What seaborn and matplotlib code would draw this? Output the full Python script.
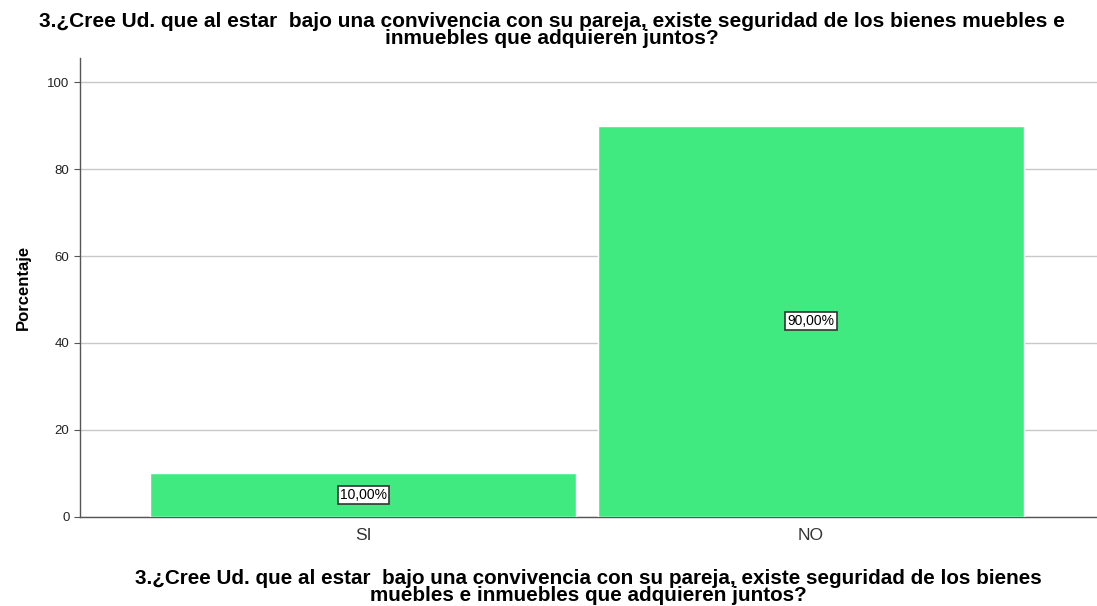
import pandas as pd
import matplotlib
matplotlib.use("Agg")
import matplotlib.pyplot as plt
import seaborn as sns

# datos
categorias = ["SI", "NO"]
porcentajes = [10.0, 90.0]
etiquetas = ["10,00%", "90,00%"]

pregunta = ("3.¿Cree Ud. que al estar  bajo una convivencia con su pareja, existe seguridad de los bienes muebles e\n"
            "inmuebles que adquieren juntos?")
pregunta_x = ("3.¿Cree Ud. que al estar  bajo una convivencia con su pareja, existe seguridad de los bienes\n"
              "muebles e inmuebles que adquieren juntos?")

sns.set_style("white")
plt.rcParams['font.family'] = ['Liberation Sans', 'DejaVu Sans']
plt.rcParams['text.color'] = 'black'
plt.rcParams['axes.labelcolor'] = 'black'

df = pd.DataFrame({'cat': categorias, 'pct': porcentajes})

fig = plt.figure(figsize=(10.97, 6.06), dpi=100)
ax = fig.add_axes([0.0729, 0.147, 0.927, 0.757])

sns.barplot(data=df, x='cat', y='pct', color='#41EA80', saturation=1,
            width=0.95, ax=ax, zorder=3)

ax.set_ylim(0, 105.5)
ax.set_xlim(-0.632, 1.638)
ax.set_yticks([0, 20, 40, 60, 80, 100])
ax.yaxis.grid(True, color='#c8c8c8', linewidth=1, zorder=0)
ax.set_axisbelow(True)

for s in ['top', 'right']:
    ax.spines[s].set_visible(False)
for s in ['left', 'bottom']:
    ax.spines[s].set_color('#555555')
    ax.spines[s].set_linewidth(1)

ax.tick_params(axis='y', labelsize=9.5, length=4, color='#555555', left=True, labelcolor='#222222')
ax.tick_params(axis='x', labelsize=12.5, length=0, pad=8, labelcolor='#333333')

for i, (v, t) in enumerate(zip(porcentajes, etiquetas)):
    ax.text(i, v / 2, t, ha='center', va='center', fontsize=10, zorder=5,
            bbox=dict(boxstyle='square,pad=0.15', fc='white', ec='#333333', lw=1.2))

ax.set_ylabel('Porcentaje', fontsize=12, fontweight='bold', labelpad=12)
ax.set_xlabel(pregunta_x, fontsize=14.9, fontweight='bold', labelpad=19, linespacing=0.85)

fig.text(0.503, 0.95, pregunta, ha='center', va='center', fontsize=15, fontweight='bold',
         linespacing=0.85)

fig.savefig('out.png', dpi=100)
